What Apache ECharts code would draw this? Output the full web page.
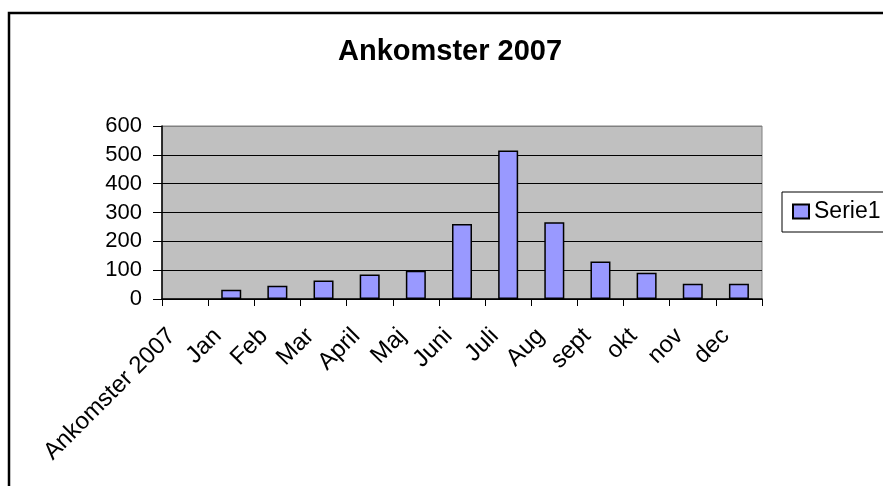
<!DOCTYPE html>
<html>
<head>
<meta charset="utf-8">
<script src="https://cdn.jsdelivr.net/npm/echarts@6/dist/echarts.min.js"></script>
<style>
  html, body { margin: 0; padding: 0; background: #fff; }
  #chart { width: 883px; height: 486px; }
</style>
</head>
<body>
<div id="chart"></div>
<script>
// data
var categories = ['Ankomster 2007', 'Jan', 'Feb', 'Mar', 'April', 'Maj', 'Juni', 'Juli', 'Aug', 'sept', 'okt', 'nov', 'dec'];
var serie1 = [null, 32, 46, 64, 85, 98, 260, 515, 266, 130, 91, 53, 53];
var yMin = 0, yMax = 600, yStep = 100;

var font = 'Liberation Sans, Arial, sans-serif';
var chart = echarts.init(document.getElementById('chart'));

var option = {
  animation: false,
  backgroundColor: '#fff',
  graphic: [{
    type: 'rect',
    z: -1,
    shape: { x: 9, y: 13, width: 1000, height: 1000 },
    style: { fill: 'none', stroke: '#000', lineWidth: 2.5 }
  }],
  title: {
    text: 'Ankomster 2007',
    left: 338,
    top: 37,
    padding: 0,
    textStyle: { fontFamily: font, fontSize: 29, fontWeight: 'bold', color: '#000' }
  },
  legend: {
    data: ['Serie1'],
    left: 782,
    top: 192,
    orient: 'vertical',
    padding: [8, 12, 9, 10],
    borderColor: '#000',
    borderWidth: 1,
    backgroundColor: '#fff',
    icon: 'rect',
    itemWidth: 16,
    itemHeight: 14,
    itemGap: 5,
    textStyle: { fontFamily: font, fontSize: 23, color: '#000' }
  },
  grid: {
    left: 162,
    right: 121,
    top: 126,
    bottom: 187,
    show: true,
    backgroundColor: '#c0c0c0',
    borderColor: '#808080',
    borderWidth: 1
  },
  xAxis: {
    type: 'category',
    data: categories,
    axisLine: { lineStyle: { color: '#000', width: 1.5 } },
    axisTick: { show: true, length: 7, lineStyle: { color: '#000' } },
    axisLabel: {
      interval: 0,
      rotate: 45,
      margin: 20,
      padding: [0, 19, 0, 0],
      fontFamily: font,
      fontSize: 24,
      color: '#000'
    },
    splitLine: { show: false }
  },
  yAxis: {
    type: 'value',
    min: yMin,
    max: yMax,
    interval: yStep,
    axisLine: { show: true, lineStyle: { color: '#000', width: 1.5 } },
    axisTick: { show: true, length: 9, lineStyle: { color: '#000' } },
    axisLabel: { margin: 20, fontFamily: font, fontSize: 22, color: '#000' },
    splitLine: {
      show: true,
      lineStyle: { color: ['#000', '#000', '#000', '#000', '#000', '#000', '#808080'], width: 1 }
    }
  },
  series: [{
    name: 'Serie1',
    type: 'bar',
    data: serie1,
    barWidth: 20,
    itemStyle: { color: '#9999ff', borderColor: '#000', borderWidth: 1.5 }
  }]
};

chart.setOption(option);
</script>
</body>
</html>
